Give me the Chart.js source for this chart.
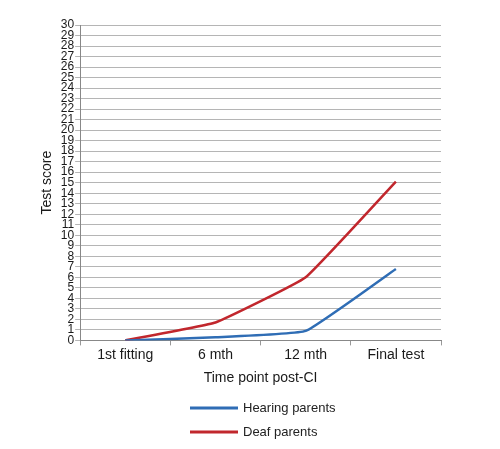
<!DOCTYPE html>
<html>
<head>
<meta charset="utf-8">
<script src="https://cdn.jsdelivr.net/npm/chart.js@4"></script>
<style>
  html, body { margin: 0; padding: 0; background: #fff; }
  #wrap { width: 500px; height: 449px; }
</style>
</head>
<body>
<div id="wrap"><canvas id="scoreChart"></canvas></div>
<script>
const timePoints = ["1st fitting", "6 mth", "12 mth", "Final test"];
const hearingParents = [0, 0.3, 0.9, 6.8];
const deafParents = [0, 1.7, 6.0, 15.1];

const seriesNames = ["Hearing parents", "Deaf parents"];
const seriesColors = ["#2f6db5", "#c1272d"];

// legend stacked under the axis title, drawn by hand
const stackedLegend = {
  id: "stackedLegend",
  afterDraw(chart) {
    const ctx = chart.ctx;
    ctx.save();
    ctx.font = "13px 'Liberation Sans', Arial, sans-serif";
    ctx.textBaseline = "middle";
    chart.data.datasets.forEach(function (ds, i) {
      const y = 408 + i * 24;
      ctx.strokeStyle = ds.borderColor;
      ctx.lineWidth = 3;
      ctx.beginPath();
      ctx.moveTo(190, y);
      ctx.lineTo(238, y);
      ctx.stroke();
      ctx.fillStyle = "#222";
      ctx.fillText(ds.label, 243, y);
    });
    ctx.restore();
  },
};

const ctx = document.getElementById("scoreChart").getContext("2d");

new Chart(ctx, {
  type: "line",
  data: {
    labels: timePoints,
    datasets: [
      {
        label: seriesNames[0],
        data: hearingParents,
        borderColor: seriesColors[0],
        borderWidth: 2.5,
        pointRadius: 0,
        tension: 0.1,
      },
      {
        label: seriesNames[1],
        data: deafParents,
        borderColor: seriesColors[1],
        borderWidth: 2.5,
        pointRadius: 0,
        tension: 0.1,
      },
    ],
  },
  options: {
    responsive: true,
    maintainAspectRatio: false,
    animation: false,
    layout: {
      padding: { top: 25, right: 59, bottom: 62, left: 39 },
    },
    plugins: {
      legend: { display: false },
      tooltip: { enabled: false },
    },
    scales: {
      x: {
        offset: true,
        grid: {
          offset: true,
          drawOnChartArea: false,
          color: "#999",
          tickLength: 5,
        },
        border: { color: "#888" },
        ticks: {
          color: "#1a1a1a",
          font: { family: "'Liberation Sans', Arial, sans-serif", size: 14 },
          padding: 1,
        },
        title: {
          display: true,
          text: "Time point post-CI",
          color: "#1a1a1a",
          font: { family: "'Liberation Sans', Arial, sans-serif", size: 14 },
          padding: { top: 6, bottom: 0 },
        },
      },
      y: {
        min: 0,
        max: 30,
        grid: {
          color: "#b5b5b5",
          tickLength: 5,
        },
        border: { color: "#888" },
        ticks: {
          stepSize: 1,
          autoSkip: false,
          color: "#1a1a1a",
          padding: 1,
          font: { family: "'Liberation Sans Narrow', 'Liberation Sans', Arial, sans-serif", size: 12 },
        },
        title: {
          display: true,
          text: "Test score",
          color: "#1a1a1a",
          font: { family: "'Liberation Sans', Arial, sans-serif", size: 14 },
          padding: { top: 0, bottom: 4 },
        },
      },
    },
  },
  plugins: [stackedLegend],
});
</script>
</body>
</html>
